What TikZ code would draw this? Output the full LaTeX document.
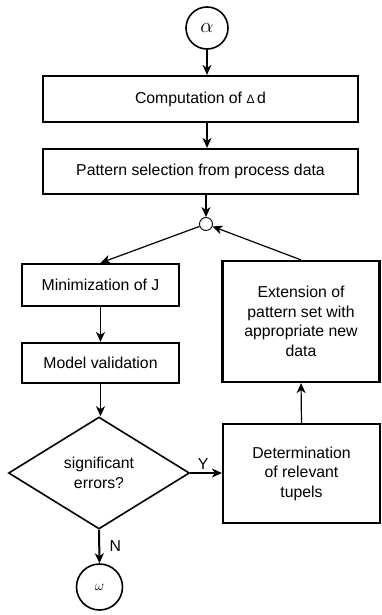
\documentclass[tikz,border=0pt]{standalone}
\usepackage{fontspec}
\setmainfont{Liberation Sans}
\usetikzlibrary{shapes.geometric,arrows.meta}
\begin{document}
\begin{tikzpicture}[x=1pt,y=-1pt,
  every node/.style={font=\fontsize{15.8}{19.5}\selectfont},
  box/.style={draw,line width=2.2pt,rectangle,inner sep=0pt,align=center},
  term/.style={draw,line width=1.6pt,circle,inner sep=0pt},
  conn/.style={line width=1.2pt,-{Stealth[length=10pt,width=9pt,inset=3pt]}}]
\useasboundingbox (0,0) rectangle (381,615);
\node[term,minimum size=42pt] (alpha) at (207,28) {\fontsize{20}{20}\selectfont$\alpha$};
\node[box,minimum width=315pt,minimum height=46pt] (c1) at (200.5,99) {Computation of {\fontsize{12}{12}\selectfont Δ}\,d};
\node[box,minimum width=315pt,minimum height=45pt] (c2) at (200.5,171.5) {Pattern selection from process data};
\node[draw,line width=0.9pt,circle,inner sep=0pt,minimum size=13pt] (junc) at (206,224) {};
\node[box,minimum width=157pt,minimum height=42pt] (mini) at (100.5,285) {Minimization of J};
\node[box,minimum width=157pt,minimum height=40pt] (model) at (100.5,363) {Model validation};
\node[box,minimum width=157pt,minimum height=121pt] (ext) at (301,321.5) {Extension of\\pattern set with\\appropriate new\\data};
\node[draw,line width=1.6pt,diamond,inner sep=0pt,minimum width=181pt,minimum height=112pt,align=center] (dec) at (99,473) {significant\\errors?};
\node[box,minimum width=157pt,minimum height=99pt] (det) at (301.5,473.5) {Determination\\of relevant\\tupels};
\node[term,minimum size=46pt] (omega) at (99.5,587) {\fontsize{14}{14}\selectfont$\omega$};
\draw[conn] (alpha.south) -- (alpha.south |- c1.north);
\draw[conn] (c1.south -| alpha) -- (c2.north -| alpha);
\draw[conn] (c2.south -| junc) -- (junc.north);
\draw[conn] (junc) -- (mini.north);
\draw[conn] (ext.north) -- (junc);
\draw[conn] (mini.south) -- (model.north);
\draw[conn] (model.south) -- (model.south |- dec.north);
\draw[conn] (dec.east) -- node[above,xshift=-3pt] {Y} (det.west |- dec.east);
\draw[conn] (det.north) -- (ext.south);
\draw[conn,line width=2pt] (dec.south) -- node[right,xshift=6pt] {N} (omega.north);
\end{tikzpicture}
\end{document}
